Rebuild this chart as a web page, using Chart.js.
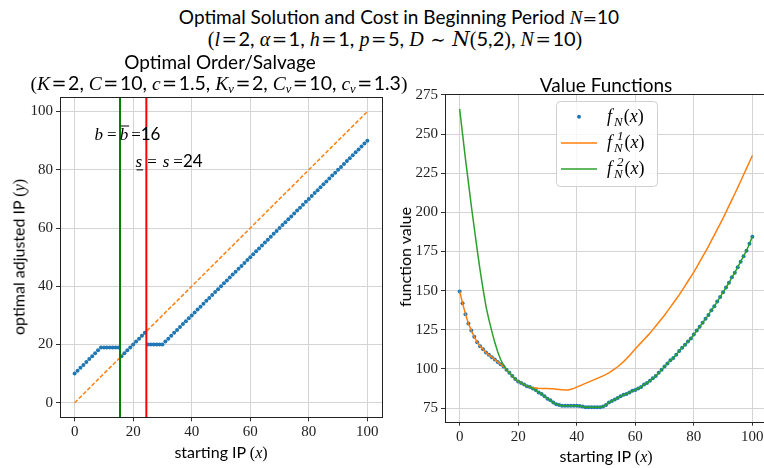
<!DOCTYPE html>
<html>
<head>
<meta charset="utf-8">
<script src="https://cdn.jsdelivr.net/npm/chart.js@4.4.1/dist/chart.umd.min.js"></script>
<style>
html, body { margin: 0; padding: 0; background: #fff; overflow: hidden; }
#fig { position: relative; width: 764px; height: 468px; overflow: hidden; }
canvas { position: absolute; }
.t { position: absolute; white-space: nowrap; font-family: Lato, sans-serif; color: #000; transform: translate(-50%, -50%); line-height: 1; }
.m { font-family: "Liberation Serif", serif; font-style: italic; }
.r { font-family: "Liberation Serif", serif; }
.e { font-family: "DejaVu Serif", serif; font-size: 92%; margin: 0 1.5px; }
.cal { font-family: "DejaVu Serif", serif; font-style: italic; }
.t sub { font-size: 65%; vertical-align: -0.25em; }
.rot { transform: translate(-50%, -50%) rotate(-90deg); }
</style>
</head>
<body>
<div id="fig">
  <canvas id="orderChart" width="400" height="408" style="left:0;top:60px"></canvas>
  <canvas id="valueChart" width="400" height="408" style="left:390px;top:60px"></canvas>

  <div class="t" style="left:399px;top:17px;font-size:19px">Optimal Solution and Cost in Beginning Period <span class="m">N</span><span class="e" style="margin:0">=</span>10</div>
  <div class="t" style="left:395px;top:39px;font-size:20px"><span class="r">(</span><span class="m">l</span><span class="e">=</span>2, <span class="m">α</span><span class="e">=</span>1, <span class="m">h</span><span class="e">=</span>1, <span class="m">p</span><span class="e">=</span>5, <span class="m">D</span> <span class="e">∼</span> <span class="cal">N</span><span class="r">(</span>5,2<span class="r">)</span>, <span class="m">N</span><span class="e">=</span>10<span class="r">)</span></div>

  <div class="t" style="left:220px;top:61px;font-size:19px">Optimal Order/Salvage</div>
  <div class="t" style="left:219px;top:84px;font-size:19.5px"><span class="r">(</span><span class="m">K</span><span class="e">=</span>2, <span class="m">C</span><span class="e">=</span>10, <span class="m">c</span><span class="e">=</span>1.5, <span class="m">K<sub>v</sub></span><span class="e">=</span>2, <span class="m">C<sub>v</sub></span><span class="e">=</span>10, <span class="m">c<sub>v</sub></span><span class="e">=</span>1.3<span class="r">)</span></div>
  <div class="t" style="left:606px;top:84px;font-size:19px">Value Functions</div>

  <div class="t" style="left:221px;top:452px;font-size:16px">starting IP <span class="r">(</span><span class="m">x</span><span class="r">)</span></div>
  <div class="t" style="left:606px;top:456px;font-size:16px">starting IP <span class="r">(</span><span class="m">x</span><span class="r">)</span></div>
  <div class="t rot" style="left:19px;top:257px;font-size:16px">optimal adjusted IP <span class="r">(</span><span class="m">y</span><span class="r">)</span></div>
  <div class="t rot" style="left:405px;top:257px;font-size:16px">function value</div>
</div>

<script>
// starting inventory position (x axis of both panels)
const startIP = [0, 1, 2, 3, 4, 5, 6, 7, 8, 9, 10, 11, 12, 13, 14, 15, 16, 17, 18, 19,
  20, 21, 22, 23, 24, 25, 26, 27, 28, 29, 30, 31, 32, 33, 34, 35, 36, 37, 38, 39,
  40, 41, 42, 43, 44, 45, 46, 47, 48, 49, 50, 51, 52, 53, 54, 55, 56, 57, 58, 59,
  60, 61, 62, 63, 64, 65, 66, 67, 68, 69, 70, 71, 72, 73, 74, 75, 76, 77, 78, 79,
  80, 81, 82, 83, 84, 85, 86, 87, 88, 89, 90, 91, 92, 93, 94, 95, 96, 97, 98, 99, 100];

// optimal adjusted IP (left panel)
const adjustedIP = [10, 11, 12, 13, 14, 15, 16, 17, 18, 19, 19, 19, 19, 19, 19, 19, 16, 17, 18, 19,
  20, 21, 22, 23, 24, 20, 20, 20, 20, 20, 20, 21, 22, 23, 24, 25, 26, 27, 28, 29,
  30, 31, 32, 33, 34, 35, 36, 37, 38, 39, 40, 41, 42, 43, 44, 45, 46, 47, 48, 49,
  50, 51, 52, 53, 54, 55, 56, 57, 58, 59, 60, 61, 62, 63, 64, 65, 66, 67, 68, 69,
  70, 71, 72, 73, 74, 75, 76, 77, 78, 79, 80, 81, 82, 83, 84, 85, 86, 87, 88, 89, 90];

// reference line y = x
const diagX = [0, 100];
const diagY = [0, 100];

// thresholds
const bThreshold = 15.5;
const sThreshold = 24.5;

// value functions (right panel)
const fN = [149.5, 142, 135, 129, 124.5, 120.5, 117, 114.5, 112.5, 110.5, 109, 107.5, 106, 104.5, 103, 101.5, 99.5, 97.5, 95.5, 93.5,
  92, 91, 90, 89, 88.5, 87.5, 86.5, 85, 84, 82.5, 81, 80, 78.5, 77.5, 77, 76.5, 76.5, 76.5, 76.5, 76.5,
  76.5, 76.3, 76, 75.5, 75.5, 75.5, 75.5, 75.5, 75.5, 76, 77, 78.5, 79.5, 80.5, 81.5, 82.5, 83.5, 84, 85, 86,
  86.5, 87.5, 88.5, 90, 91, 92.5, 94, 95.5, 97.5, 99.5, 101.5, 103.5, 105.5, 107, 109, 111.5, 113.5, 115.5, 117.5, 119.5,
  122, 124.5, 127, 129.5, 132, 134.5, 137.5, 140, 143, 146, 149, 152, 155, 158.5, 161.5, 165, 168.5, 172, 175.5, 180, 184.5];

const f1 = [149.5, 142, 135, 129, 124.5, 120.5, 117, 114.5, 112.5, 110.5, 109, 107.5, 106, 104.5, 103, 101.5, 99.5, 97.5, 95.5, 93.5,
  92, 91, 90, 89, 88.5, 88, 87.8, 87.6, 87.5, 87.5, 87.5, 87.4, 87.3, 87.1, 86.9, 86.7, 86.5, 86.6, 87, 87.6,
  88.4, 89.2, 90, 90.8, 91.6, 92.4, 93.2, 94, 94.8, 95.6, 96.5, 97.5, 98.7, 100, 101.4, 103, 104.7, 106.5, 108.5, 110.6,
  112.8, 114.8, 116.8, 118.8, 120.8, 122.8, 125.1, 127.4, 129.7, 132, 134.3, 136.9, 139.5, 142.1, 144.7, 147.3, 150.2, 153.1, 156, 158.9,
  161.8, 165.1, 168.4, 171.7, 175, 178.3, 181.9, 185.5, 189.1, 192.7, 196.3, 200.2, 204.1, 208, 211.9, 215.8, 219.9, 224, 228.1, 232.2, 236.3];

const f2 = [266, 250, 234, 219, 204, 190, 176, 163, 151, 140, 131.5, 124, 117, 111, 106, 102.5, 99.5, 97.5, 95.5, 93.5,
  92, 91, 90, 89, 88.5, 87.5, 86.5, 85, 84, 82.5, 81, 80, 78.5, 77.5, 77, 76.5, 76.5, 76.5, 76.5, 76.5,
  76.5, 76.3, 76, 75.5, 75.5, 75.5, 75.5, 75.5, 75.5, 76, 77, 78.5, 79.5, 80.5, 81.5, 82.5, 83.5, 84, 85, 86,
  86.5, 87.5, 88.5, 90, 91, 92.5, 94, 95.5, 97.5, 99.5, 101.5, 103.5, 105.5, 107, 109, 111.5, 113.5, 115.5, 117.5, 119.5,
  122, 124.5, 127, 129.5, 132, 134.5, 137.5, 140, 143, 146, 149, 152, 155, 158.5, 161.5, 165, 168.5, 172, 175.5, 180, 184.5];

// tick labels
const xTicks = [0, 20, 40, 60, 80, 100];
const leftYTicks = [0, 20, 40, 60, 80, 100];
const rightYTicks = [75, 100, 125, 150, 175, 200, 225, 250, 275];

const BLUE = "#1f77b4", ORANGE = "#ff7f0e", GREEN = "#2ca02c";
const SERIF = '"Liberation Serif", serif';

const pts = (xs, ys) => xs.map((x, i) => ({ x: x, y: ys[i] }));

// draw a run of text pieces (math-ish) starting at x, baseline y
function drawRich(ctx, x, y, parts) {
    ctx.save();
    ctx.fillStyle = "#000";
    ctx.textBaseline = "alphabetic";
    ctx.textAlign = "left";
    for (const p of parts) {
        if (p.sub !== undefined) {
            ctx.font = p.font;
            const w1 = ctx.measureText(p.sub).width;
            const w2 = p.sup ? ctx.measureText(p.sup).width : 0;
            ctx.fillText(p.sub, x, y + 4);
            if (p.sup) ctx.fillText(p.sup, x + 3, y - 8);
            x += Math.max(w1, w2 + 3) + 1;
            continue;
        }
        ctx.font = p.font;
        const w = ctx.measureText(p.t).width;
        ctx.fillText(p.t, x, y);
        if (p.over || p.under) {
            ctx.strokeStyle = "#000";
            ctx.lineWidth = 1;
            const ly = p.over ? y - 13.5 : y + 3;
            ctx.beginPath();
            ctx.moveTo(x + 1, ly);
            ctx.lineTo(x + w + 1, ly);
            ctx.stroke();
        }
        x += w + (p.gap || 0);
    }
    ctx.restore();
}

function axisScales(yTicks, yMin, yMax, xH, yW) {
    const grid = { color: "#d4d4d4", lineWidth: 1, tickLength: 4, tickColor: "#333", drawTicks: true };
    const tickFont = { family: SERIF, size: 15 };
    return {
        x: {
            type: "linear", min: -5, max: 105,
            grid: grid, border: { display: false },
            ticks: { font: tickFont, color: "#222", padding: 2, maxRotation: 0 },
            afterBuildTicks: s => { s.ticks = xTicks.map(v => ({ value: v })); },
            afterFit: s => { s.height = xH; },
        },
        y: {
            type: "linear", min: yMin, max: yMax,
            grid: grid, border: { display: false },
            ticks: { font: tickFont, color: "#222", padding: 3 },
            afterBuildTicks: s => { s.ticks = yTicks.map(v => ({ value: v })); },
            afterFit: s => { s.width = yW; },
        },
    };
}

const frame = {
    id: "frame",
    afterDraw(chart) {
        const a = chart.chartArea, ctx = chart.ctx;
        ctx.save();
        ctx.strokeStyle = "#222";
        ctx.lineWidth = 1;
        ctx.strokeRect(Math.round(a.left) + 0.5, Math.round(a.top) + 0.5, Math.round(a.right - a.left), Math.round(a.bottom - a.top));
        ctx.restore();
    },
};

// thresholds and annotations on the left panel
const thresholds = {
    id: "thresholds",
    afterDatasetsDraw(chart) {
        const a = chart.chartArea, ctx = chart.ctx, xs = chart.scales.x, ys = chart.scales.y;
        ctx.save();
        ctx.lineWidth = 2;
        [[bThreshold, "#008000"], [sThreshold, "#ff0000"]].forEach(([v, c]) => {
            const px = xs.getPixelForValue(v);
            ctx.strokeStyle = c;
            ctx.beginPath();
            ctx.moveTo(px, a.top);
            ctx.lineTo(px, a.bottom);
            ctx.stroke();
        });
        ctx.restore();
        const it = "italic 17px " + SERIF, rm = "17px " + SERIF, sf = "17px Lato, sans-serif";
        drawRich(ctx, xs.getPixelForValue(6.8), ys.getPixelForValue(90.4), [
            { t: "b", font: it, gap: 4 }, { t: "=", font: rm, gap: 3 }, { t: "b", font: it, over: true, gap: 3 },
            { t: "=", font: rm }, { t: "16", font: sf }]);
        drawRich(ctx, xs.getPixelForValue(20.8), ys.getPixelForValue(81), [
            { t: "s", font: it, under: true, gap: 5 }, { t: "=", font: rm, gap: 6 }, { t: "s", font: it, gap: 4 },
            { t: "=", font: rm }, { t: "24", font: sf }]);
    },
};

// legend with sub/superscripts on the right panel
const mathLegend = {
    id: "mathLegend",
    afterDraw(chart) {
        const a = chart.chartArea, ctx = chart.ctx;
        const bx = a.left + 111, by = a.top + 7, bw = 101, bh = 85;
        ctx.save();
        ctx.fillStyle = "rgba(255,255,255,0.8)";
        ctx.strokeStyle = "#d0d0d0";
        ctx.lineWidth = 1;
        ctx.beginPath();
        ctx.roundRect(bx + 0.5, by + 0.5, bw, bh, 4);
        ctx.fill();
        ctx.stroke();
        const it = "italic 18px " + SERIF, rm = "18px " + SERIF, sm = "italic 13px " + SERIF;
        const rows = [
            { kind: "dot", color: BLUE, sup: null },
            { kind: "line", color: ORANGE, sup: "1" },
            { kind: "line", color: GREEN, sup: "2" },
        ];
        rows.forEach((r, i) => {
            const cy = by + 15.7 + i * 26.2;
            if (r.kind === "dot") {
                ctx.fillStyle = r.color;
                ctx.beginPath();
                ctx.arc(bx + 23, cy, 2, 0, Math.PI * 2);
                ctx.fill();
            } else {
                ctx.strokeStyle = r.color;
                ctx.lineWidth = 1.5;
                ctx.beginPath();
                ctx.moveTo(bx + 5, cy);
                ctx.lineTo(bx + 41, cy);
                ctx.stroke();
            }
            const parts = [{ t: "f", font: it, gap: 2 }];
            parts.push(r.sup ? { sub: "N", sup: r.sup, font: sm } : { sub: "N", font: sm });
            parts.push({ t: "(", font: rm }, { t: "x", font: it }, { t: ")", font: rm });
            drawRich(ctx, bx + 51, cy + 5, parts);
        });
        ctx.restore();
    },
};

new Chart(document.getElementById("orderChart"), {
    type: "scatter",
    data: {
        datasets: [{
            label: "y = x",
            data: pts(diagX, diagY),
            showLine: true,
            borderColor: ORANGE,
            borderWidth: 1.5,
            borderDash: [4, 2],
            pointRadius: 0,
            order: 2,
        }, {
            label: "optimal y",
            data: pts(startIP, adjustedIP),
            backgroundColor: BLUE,
            borderWidth: 0,
            pointRadius: 2,
            order: 1,
        }],
    },
    options: {
        responsive: false,
        animation: false,
        layout: { padding: { left: 0, right: 18, top: 37, bottom: 0 } },
        plugins: { legend: { display: false }, tooltip: { enabled: false } },
        scales: axisScales(leftYTicks, -5, 105, 50.7, 60),
    },
    plugins: [thresholds, frame],
});

new Chart(document.getElementById("valueChart"), {
    type: "scatter",
    data: {
        datasets: [{
            label: "f_N^2(x)",
            data: pts(startIP, f2),
            showLine: true,
            borderColor: GREEN,
            borderWidth: 1.5,
            pointRadius: 0,
            order: 1,
        }, {
            label: "f_N^1(x)",
            data: pts(startIP, f1),
            showLine: true,
            borderColor: ORANGE,
            borderWidth: 1.5,
            pointRadius: 0,
            order: 2,
        }, {
            label: "f_N(x)",
            data: pts(startIP, fN),
            backgroundColor: BLUE,
            borderWidth: 0,
            pointRadius: 2,
            order: 3,
        }],
    },
    options: {
        responsive: false,
        animation: false,
        layout: { padding: { left: 0, right: 23, top: 34, bottom: 0 } },
        plugins: { legend: { display: false }, tooltip: { enabled: false } },
        scales: axisScales(rightYTicks, 66.3, 275.6, 46.3, 55),
    },
    plugins: [mathLegend, frame],
});
</script>
</body>
</html>
